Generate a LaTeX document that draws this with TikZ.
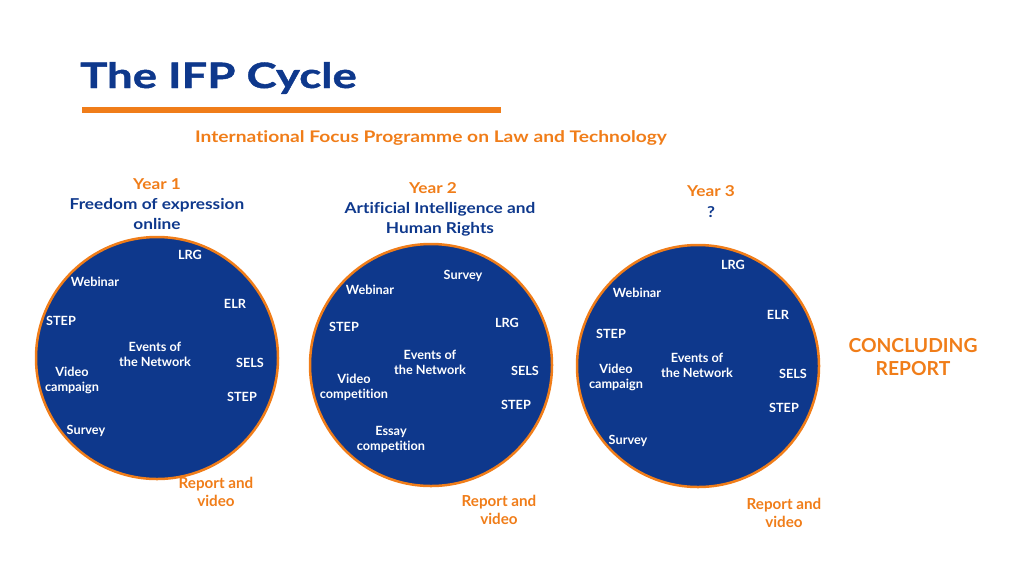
\documentclass[tikz,border=0pt]{standalone}
\usepackage{fontspec}
\defaultfontfeatures{Ligatures=CommonOff}
\setmainfont{Lato}
\newfontfamily\titlefont{Lato}[FakeStretch=1.3, FakeBold=1.2]
\newfontfamily\subfont{Lato}[FakeStretch=1.2]
\newfontfamily\headfont{Lato}[FakeStretch=1.15]
\definecolor{ifpblue}{RGB}{14,56,140}
\definecolor{ifporange}{RGB}{240,125,25}

\begin{document}
\begin{tikzpicture}[
        x=1pt, y=-1pt,
        ring/.style    ={draw=ifporange, fill=ifpblue, circle, minimum size=242pt,
                         inner sep=0pt, line width=2.5pt},
        item/.style    ={text=white, font=\fontsize{12.7}{15}\selectfont\bfseries,
                         align=center, inner sep=0pt},
        yearlbl/.style ={text=ifporange, font=\headfont\fontsize{15}{20}\selectfont\bfseries,
                         align=center, inner sep=0pt},
        theme/.style   ={text=ifpblue, font=\headfont\fontsize{15}{20}\selectfont\bfseries,
                         align=center, inner sep=0pt},
        report/.style  ={text=ifporange, font=\fontsize{15.2}{17.5}\selectfont\bfseries,
                         align=center, inner sep=0pt},
    ]
    \useasboundingbox (0,0) rectangle (1024,576);

    %% Title
    \node[anchor=base west, inner sep=0pt, text=ifpblue,
          font=\titlefont\fontsize{35}{40}\selectfont\bfseries] (title) at (80,88) {The IFP Cycle};
    \draw[ifporange, line width=6pt] (82,110) -- (501,110);
    \node[text=ifporange, font=\subfont\fontsize{16}{18}\selectfont\bfseries, inner sep=0pt]
          (subtitle) at (431,138) {International Focus Programme on Law and Technology};

    %% Year headers
    \node[yearlbl] (year1) at (157,184) {Year 1};
    \node[theme]   (theme1) at (157,214) {Freedom of expression\\online};
    \node[yearlbl] (year2) at (433,188) {Year 2};
    \node[theme]   (theme2) at (440,219) {Artificial Intelligence and\\Human Rights};
    \node[yearlbl] (year3) at (711,191) {Year 3};
    \node[theme]   (theme3) at (711,212) {?};

    %% Circles
    \node[ring] (ring1) at (157,358) {};
    \node[ring] (ring2) at (431,365) {};
    \node[ring] (ring3) at (698,366) {};

    %% Year 1 activities
    \node[item] (a1lrg)   at (190,255) {LRG};
    \node[item] (a1web)   at (95,282)  {Webinar};
    \node[item] (a1elr)   at (235,304) {ELR};
    \node[item] (a1stepa) at (61,321)  {STEP};
    \node[item] (a1net)   at (155,354) {Events of\\the Network};
    \node[item] (a1sels)  at (250,363) {SELS};
    \node[item] (a1video) at (72,380)  {Video\\campaign};
    \node[item] (a1stepb) at (242,397) {STEP};
    \node[item] (a1surv)  at (86,431)  {Survey};

    %% Year 2 activities
    \node[item] (a2surv)  at (463,276) {Survey};
    \node[item] (a2web)   at (370,290) {Webinar};
    \node[item] (a2lrg)   at (507,323) {LRG};
    \node[item] (a2stepa) at (344,327) {STEP};
    \node[item] (a2net)   at (430,362) {Events of\\the Network};
    \node[item] (a2sels)  at (525,371) {SELS};
    \node[item] (a2video) at (354,387) {Video\\competition};
    \node[item] (a2stepb) at (516,405) {STEP};
    \node[item] (a2essay) at (391,439) {Essay\\competition};

    %% Year 3 activities
    \node[item] (a3lrg)   at (733,265) {LRG};
    \node[item] (a3web)   at (637,293) {Webinar};
    \node[item] (a3elr)   at (778,315) {ELR};
    \node[item] (a3stepa) at (611,334) {STEP};
    \node[item] (a3net)   at (697,365) {Events of\\the Network};
    \node[item] (a3sels)  at (793,374) {SELS};
    \node[item] (a3video) at (616,377) {Video\\campaign};
    \node[item] (a3stepb) at (784,408) {STEP};
    \node[item] (a3surv)  at (628,441) {Survey};

    %% Outputs
    \node[report] (rep1) at (216,492) {Report and\\video};
    \node[report] (rep2) at (499,510) {Report and\\video};
    \node[report] (rep3) at (784,513) {Report and\\video};
    \node[text=ifporange, font=\fontsize{19.3}{23}\selectfont\bfseries, align=center,
          inner sep=0pt] (final) at (913,357) {CONCLUDING\\REPORT};

\end{tikzpicture}
\end{document}
